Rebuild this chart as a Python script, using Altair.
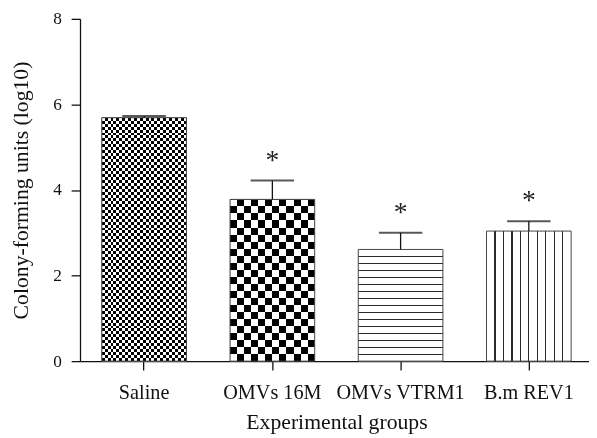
import altair as alt
import pandas as pd

# ---- data ----
groups = ["Saline", "OMVs 16M", "OMVs VTRM1", "B.m REV1"]
means = [5.69, 3.78, 2.61, 3.04]
errors = [0.04, 0.44, 0.39, 0.23]
sig = ["", "*", "*", "*"]

df = pd.DataFrame({"group": groups, "mean": means, "err": errors, "sig": sig})
df["upper"] = df["mean"] + df["err"]

FONT = "Liberation Serif"
W, H = 516, 347
RANGE_W = 520
Y_MAX = 8
STEP = RANGE_W / 4.0
BW = STEP * 0.66


def px_h(v):
    return v * H / Y_MAX


def stripes(n, c0, c1):
    stops = []
    for i in range(n):
        c = c0 if i % 2 == 0 else c1
        stops.append(alt.GradientStop(offset=i / n, color=c))
        stops.append(alt.GradientStop(offset=(i + 1) / n, color=c))
    return stops


def lines(extent, spacing, thick, bg, fg):
    n = max(1, round(extent / spacing))
    half = (thick / 2.0) / extent
    stops = [alt.GradientStop(offset=0, color=bg)]
    for k in range(1, n):
        c = k / n
        stops += [
            alt.GradientStop(offset=c - half, color=bg),
            alt.GradientStop(offset=c - half, color=fg),
            alt.GradientStop(offset=c + half, color=fg),
            alt.GradientStop(offset=c + half, color=bg),
        ]
    stops.append(alt.GradientStop(offset=1, color=bg))
    return stops


def vgrad(stops):
    return alt.LinearGradient(gradient="linear", stops=stops, x1=0, y1=0, x2=0, y2=1)


def hgrad(stops):
    return alt.LinearGradient(gradient="linear", stops=stops, x1=0, y1=0, x2=1, y2=0)


x_enc = alt.X(
    "group:N",
    sort=groups,
    scale=alt.Scale(paddingInner=0.34, paddingOuter=0.17, range=[0, RANGE_W]),
    axis=alt.Axis(
        title="Experimental groups",
        labelAngle=0,
        labelFont=FONT,
        labelFontSize=20.5,
        labelColor="#111",
        labelPadding=13,
        titleFont=FONT,
        titleFontSize=22,
        titleFontWeight="normal",
        titleColor="#111",
        titlePadding=9,
        tickSize=9,
        tickColor="#111",
        tickWidth=1.3,
        domainColor="#111",
        domainWidth=1.3,
        grid=False,
    ),
)
y_scale = alt.Scale(domain=[0, Y_MAX], nice=False, zero=True)
y_enc = alt.Y(
    "mean:Q",
    scale=y_scale,
    axis=alt.Axis(
        title="Colony-forming units (log10)",
        values=[0, 2, 4, 6, 8],
        labelFont=FONT,
        labelFontSize=17.5,
        labelColor="#111",
        labelPadding=10,
        titleFont=FONT,
        titleFontSize=22,
        titleFontWeight="normal",
        titleColor="#111",
        titlePadding=20,
        tickSize=9,
        tickColor="#111",
        tickWidth=1.3,
        domainColor="#111",
        domainWidth=1.3,
        grid=False,
    ),
)

base = alt.Chart(df)


def bar_of(name):
    return base.transform_filter(alt.datum.group == name)


layers = []

# Saline: fine checkerboard (horizontal stripes XOR vertical stripes)
h0 = px_h(means[0])
layers.append(
    bar_of("Saline").mark_bar(fill=vgrad(stripes(round(h0 / 3.0), "#000000", "#ffffff")), strokeWidth=0)
    .encode(x=x_enc, y=y_enc)
)
layers.append(
    bar_of("Saline").mark_bar(
        fill=hgrad(stripes(round(BW / 3.0), "#ffffff", "rgba(255,255,255,0)")),
        strokeWidth=0,
        blend="difference",
    ).encode(x=x_enc, y=y_enc)
)

# OMVs 16M: coarse checkerboard
h1 = px_h(means[1])
layers.append(
    bar_of("OMVs 16M").mark_bar(fill=vgrad(stripes(round(h1 / 7.0), "#000000", "#ffffff")), strokeWidth=0)
    .encode(x=x_enc, y=y_enc)
)
layers.append(
    bar_of("OMVs 16M").mark_bar(
        fill=hgrad(stripes(round(BW / 7.0), "#ffffff", "rgba(255,255,255,0)")),
        strokeWidth=0,
        blend="difference",
    ).encode(x=x_enc, y=y_enc)
)

# OMVs VTRM1: horizontal lines
h2 = px_h(means[2])
layers.append(
    bar_of("OMVs VTRM1").mark_bar(fill=vgrad(lines(h2, 7.1, 1.1, "#ffffff", "#2a2a2a")), strokeWidth=0)
    .encode(x=x_enc, y=y_enc)
)

# B.m REV1: vertical lines
layers.append(
    bar_of("B.m REV1").mark_bar(fill=hgrad(lines(BW, 8.6, 1.3, "#ffffff", "#2a2a2a")), strokeWidth=0)
    .encode(x=x_enc, y=y_enc)
)

# outlines
layers.append(
    base.mark_bar(fillOpacity=0, stroke="#444444", strokeWidth=1).encode(x=x_enc, y=y_enc)
)

# error bars (upper only)
layers.append(
    base.mark_rule(color="#111111", strokeWidth=1.3).encode(
        x=x_enc, y=alt.Y("mean:Q", scale=y_scale), y2="upper:Q"
    )
)
layers.append(
    base.mark_tick(color="#111111", size=44, thickness=2).encode(
        x=x_enc, y=alt.Y("upper:Q", scale=y_scale)
    )
)

# significance stars
layers.append(
    base.mark_text(font=FONT, fontSize=28, color="#222222", dy=-12, baseline="alphabetic").encode(
        x=x_enc, y=alt.Y("upper:Q", scale=y_scale), text="sig:N"
    )
)

chart = (
    alt.layer(*layers)
    .properties(
        width=W,
        height=H,
        background="white",
        autosize=alt.AutoSizeParams(type="none"),
        padding={"left": 73, "top": 8, "right": 0, "bottom": 80},
    )
    .configure_view(strokeWidth=0, stroke="transparent")
)

chart.save("out.html", embed_options={"renderer": "svg", "actions": False})
